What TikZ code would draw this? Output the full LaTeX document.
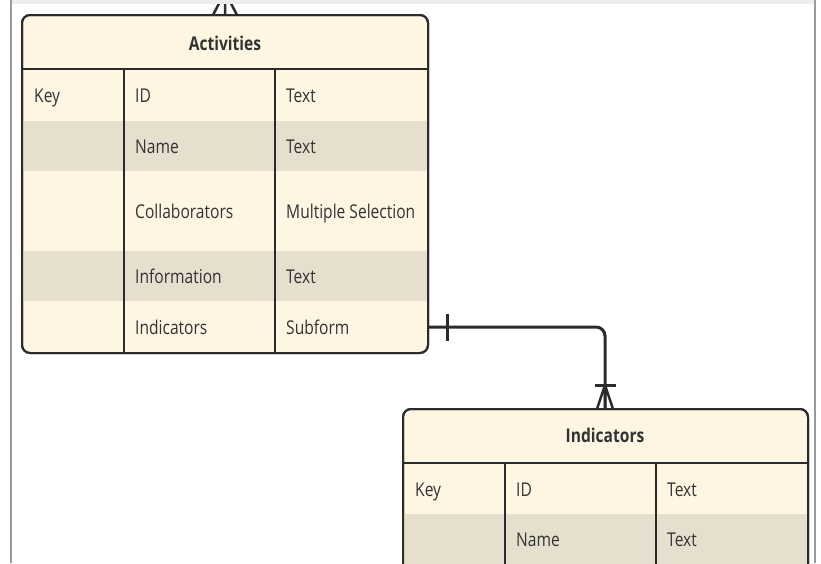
\documentclass[tikz,border=0pt]{standalone}
\usepackage{fontspec}
\setmainfont{Open Sans}[FakeStretch=0.82]
\begin{document}
\begin{tikzpicture}[x=1pt,y=-1pt,
  tablebox/.style={draw=linec, line width=2pt, fill=creamc, rounded corners=8pt, inner sep=0pt},
  cell/.style={anchor=base west, inner sep=0pt, text=textc, font=\fontsize{19}{22}\selectfont},
  head/.style={anchor=base, inner sep=0pt, text=textc, font=\fontsize{19}{22}\selectfont\bfseries},
  grid/.style={draw=linec, line width=2pt},
  conn/.style={draw=linec, line width=3pt},
  frame/.style={draw=framec, line width=1.5pt}]
\definecolor{linec}{HTML}{2B2B2B}
\definecolor{creamc}{HTML}{FEF5E3}
\definecolor{shadec}{HTML}{E6DFCE}
\definecolor{textc}{HTML}{333333}
\definecolor{framec}{HTML}{9A9A9A}
\definecolor{bandc}{HTML}{EDEDED}
\useasboundingbox (0,0) rectangle (821,563);
\clip (0,0) rectangle (821,563);
\fill[white] (0,0) rectangle (821,563);

% crow's foot entering Activities from above
\coordinate (topapex) at (225,-8);
\draw[conn, line width=2.5pt] (topapex) -- (213,15) (topapex) -- (225,15) (topapex) -- (237,15);

% ---------- Activities ----------
\node[tablebox, minimum width=406pt, minimum height=338pt] (act) at (225,184) {};
\fill[shadec] (23,121) rectangle (427,171);
\fill[shadec] (23,251) rectangle (427,301);
\draw[grid] (act.north west |- 0,69) -- (act.north east |- 0,69);
\draw[grid] (124,69) -- (124,353);
\draw[grid] (275,69) -- (275,353);
\node[tablebox, fill=none, minimum width=406pt, minimum height=338pt] at (225,184) {};

\node[head] (acth) at (225,50) {Activities};
\node[cell] (a11) at (34,102.5) {Key};
\node[cell] (a12) at (135,102.5) {ID};
\node[cell] (a13) at (286,102.5) {Text};
\node[cell] (a22) at (135,153) {Name};
\node[cell] (a23) at (286,153) {Text};
\node[cell] (a32) at (135,218.5) {Collaborators};
\node[cell] (a33) at (286,218.5) {Multiple Selection};
\node[cell] (a42) at (135,283.3) {Information};
\node[cell] (a43) at (286,283.3) {Text};
\node[cell] (a52) at (135,334.3) {Indicators};
\node[cell] (a53) at (286,334.3) {Subform};

% ---------- Indicators ----------
\node[tablebox, minimum width=405pt, minimum height=300pt] (ind) at (605.5,559) {};
\fill[shadec] (404,514) rectangle (807,564);
\draw[grid] (403,463) -- (808,463);
\draw[grid] (505,463) -- (505,709);
\draw[grid] (656,463) -- (656,709);
\node[tablebox, fill=none, minimum width=405pt, minimum height=300pt] at (605.5,559) {};

\node[head] (indh) at (605,442.7) {Indicators};
\node[cell] (b11) at (415,496) {Key};
\node[cell] (b12) at (516,496) {ID};
\node[cell] (b13) at (667,496) {Text};
\node[cell] (b22) at (516,546.7) {Name};
\node[cell] (b23) at (667,546.7) {Text};

% ---------- connector ----------
\coordinate (cstart) at (act.east |- 0,327);
\coordinate (cend) at (ind.north -| 605,0);
\draw[conn, rounded corners=9pt] (cstart) -- (605,327) -- (cend);
\draw[conn] (447,314) -- (447,341);
\draw[conn] (595,385) -- (616,385);
\draw[conn, line width=2.5pt] (605,385) -- (597,409) (605,385) -- (605,409) (605,385) -- (613,409);

% ---------- frame ----------
\fill[bandc] (11,0) rectangle (815,4);
\draw[frame] (11,0) -- (11,563);
\draw[frame] (815,0) -- (815,563);
\end{tikzpicture}
\end{document}
